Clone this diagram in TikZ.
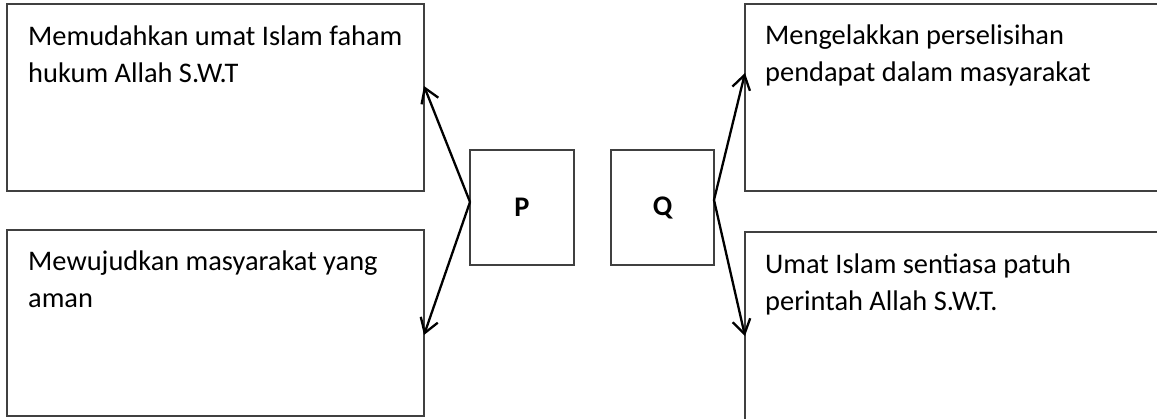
\documentclass[tikz,border=0pt]{standalone}
\usepackage{fontspec}
\setmainfont{Carlito}
\usetikzlibrary{arrows.meta}
\begin{document}
\begin{tikzpicture}[x=1pt,y=-1pt,
  box/.style={draw=black!75, line width=1.2pt},
  lbl/.style={inner sep=0pt, anchor=base west, align=left, font=\fontsize{28.4}{36.5}\selectfont},
  arr/.style={line width=2.3pt, -{Straight Barb[length=14pt,width=18pt,line width=2.3pt]}},
  bold/.style={font=\fontsize{28.4}{34}\selectfont\bfseries}]
\useasboundingbox (0,0) rectangle (1157,418);
\clip (0,0) rectangle (1157,418);
% boxes
\draw[box] (7,4) rectangle (424,191);
\draw[box] (7,230) rectangle (424,416);
\draw[box] (745,4) rectangle (1175,191);
\draw[box] (745,232) rectangle (1175,440);
\node[box, minimum width=104pt, minimum height=115pt, inner sep=0pt, bold] (P) at (522,207.5) {\raisebox{-3pt}{P}};
\node[box, minimum width=103pt, minimum height=115pt, inner sep=0pt, bold] (Q) at (662.5,207.5) {\raisebox{-3pt}{Q}};
% texts
\node[lbl] (t1) at (28,82) {Memudahkan umat Islam faham\\hukum Allah S.W.T};
\node[lbl] (t2) at (28,307) {Mewujudkan masyarakat yang\\aman};
\node[lbl] (t3) at (765,81) {Mengelakkan perselisihan\\pendapat dalam masyarakat};
\node[lbl] (t4) at (765,310) {Umat Islam sentiasa patuh\\perintah Allah S.W.T.};
% arrow endpoints
\coordinate (ps) at (470,202);
\coordinate (qs) at (714,200);
\coordinate (e1) at (424,86);
\coordinate (e2) at (424,335);
\coordinate (e3) at (745,73);
\coordinate (e4) at (745,336);
\draw[arr] (ps) -- (e1);
\draw[arr] (ps) -- (e2);
\draw[arr] (qs) -- (e3);
\draw[arr] (qs) -- (e4);
\end{tikzpicture}
\end{document}
